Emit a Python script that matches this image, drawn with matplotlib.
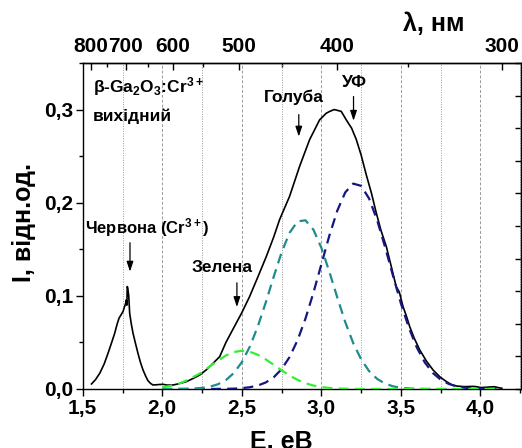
import numpy as np
import matplotlib
matplotlib.use('Agg')
import matplotlib.pyplot as plt
from matplotlib.ticker import FixedLocator, MultipleLocator, FuncFormatter, NullFormatter

plt.rcParams['font.family'] = 'Liberation Sans'
plt.rcParams['font.weight'] = 'bold'
plt.rcParams['mathtext.fontset'] = 'custom'
plt.rcParams['mathtext.rm'] = 'Liberation Sans:bold'
plt.rcParams['mathtext.it'] = 'Liberation Sans:bold'
plt.rcParams['mathtext.bf'] = 'Liberation Sans:bold'
plt.rcParams['mathtext.default'] = 'rm'

# measured PL spectrum, beta-Ga2O3:Cr3+ (as grown)
E_exp = [1.555, 1.58, 1.607, 1.635, 1.659, 1.68, 1.701, 1.715, 1.728, 1.742,
         1.753, 1.762, 1.770, 1.774, 1.777, 1.780, 1.783, 1.789, 1.795, 1.805,
         1.816, 1.83, 1.847, 1.862, 1.879, 1.895, 1.91, 1.926, 1.942, 1.96,
         1.98, 2.005, 2.03, 2.068, 2.10, 2.152, 2.19, 2.235, 2.28, 2.319,
         2.361, 2.40, 2.45, 2.50, 2.549, 2.60, 2.654, 2.70, 2.737, 2.80,
         2.863, 2.926, 2.989, 3.03, 3.052, 3.08, 3.104, 3.125, 3.156, 3.19,
         3.219, 3.25, 3.282, 3.315, 3.345, 3.375, 3.408, 3.44, 3.47, 3.49,
         3.513, 3.535, 3.555, 3.585, 3.618, 3.66, 3.702, 3.745, 3.786, 3.82,
         3.849, 3.9, 3.95, 3.975, 4.0, 4.03, 4.06, 4.09, 4.11, 4.134]
I_exp = [0.0054, 0.010, 0.0169, 0.027, 0.0384, 0.049, 0.0599, 0.069, 0.076, 0.080,
         0.0831, 0.088, 0.092, 0.0957, 0.090, 0.110, 0.108, 0.100, 0.0814, 0.070,
         0.0599, 0.050, 0.0384, 0.029, 0.0204, 0.014, 0.0089, 0.006, 0.0043, 0.0045,
         0.0048, 0.005, 0.0042, 0.0043, 0.0055, 0.0079, 0.011, 0.015, 0.021, 0.0276,
         0.0348, 0.050, 0.066, 0.082, 0.0993, 0.12, 0.1423, 0.163, 0.1817, 0.2068,
         0.239, 0.2677, 0.289, 0.296, 0.298, 0.300, 0.299, 0.298, 0.289, 0.280,
         0.268, 0.251, 0.230, 0.210, 0.189, 0.170, 0.153, 0.131, 0.110, 0.104,
         0.0885, 0.078, 0.067, 0.054, 0.042, 0.030, 0.0204, 0.013, 0.0079, 0.0045,
         0.0032, 0.0025, 0.0028, 0.0025, 0.0015, 0.0018, 0.0022, 0.0024, 0.0015, 0.0008]

# gaussian components of the fit (green, blue, UV bands)
E_fit = [2.00, 2.05, 2.10, 2.15, 2.20, 2.25, 2.30, 2.35, 2.40, 2.45,
         2.50, 2.55, 2.60, 2.65, 2.70, 2.75, 2.80, 2.85, 2.90, 2.95,
         3.00, 3.05, 3.10, 3.15, 3.20, 3.25, 3.30, 3.35, 3.40, 3.45,
         3.50, 3.55, 3.60, 3.65, 3.70, 3.75, 3.80, 3.85, 3.90, 3.95,
         4.00, 4.05, 4.10]
I_green = [0.0018, 0.0033, 0.0055, 0.0089, 0.0133, 0.0180, 0.0245, 0.0305, 0.0360, 0.0397,
           0.0410, 0.0400, 0.0368, 0.0318, 0.0260, 0.0200, 0.0145, 0.0098, 0.0062, 0.0037,
           0.0021, 0.0011, 0.0006, 0.0003, 0.0001, 0.0, 0.0, 0.0, 0.0, 0.0,
           0.0, 0.0, 0.0, 0.0, 0.0, 0.0, 0.0, 0.0, 0.0, 0.0,
           0.0, 0.0, 0.0]
I_blue = [0.0, 0.0, 0.0001, 0.0002, 0.0005, 0.0012, 0.0025, 0.0051, 0.0096, 0.0172,
          0.0288, 0.0454, 0.0670, 0.0927, 0.1204, 0.1467, 0.1677, 0.1799, 0.1811, 0.1710,
          0.1515, 0.1259, 0.0982, 0.0718, 0.0493, 0.0318, 0.0192, 0.0109, 0.0058, 0.0029,
          0.0013, 0.0006, 0.0002, 0.0001, 0.0, 0.0, 0.0, 0.0, 0.0, 0.0,
          0.0, 0.0, 0.0]
I_uv = [0.0, 0.0, 0.0, 0.0, 0.0, 0.0, 0.0, 0.0001, 0.0002, 0.0004,
        0.0009, 0.0019, 0.0037, 0.0070, 0.0125, 0.0213, 0.0343, 0.0523, 0.0756, 0.1034,
        0.1340, 0.1646, 0.1915, 0.2111, 0.2205, 0.2181, 0.2044, 0.1815, 0.1526, 0.1216,
        0.0918, 0.0656, 0.0445, 0.0285, 0.0173, 0.0100, 0.0055, 0.0028, 0.0014, 0.0006,
        0.0003, 0.0001, 0.0]

nm_major = [800, 700, 600, 500, 400, 300]
nm_minor = [750, 650, 550, 450, 350]


def e2nm(x):
    x = np.asarray(x, dtype=float)
    with np.errstate(divide='ignore', invalid='ignore'):
        return 1239.84 / x


comma = FuncFormatter(lambda v, p: f'{v:.1f}'.replace('.', ','))

fig = plt.figure(figsize=(5.22, 4.48), dpi=100)
ax = fig.add_axes([0.1585, 0.1317, 0.8397, 0.7277])

ax.plot(E_exp, I_exp, color='black', lw=1.2, zorder=3)
ax.plot(E_fit, I_uv, color='#161683', lw=1.6, dashes=(4.5, 2.8), zorder=4)
ax.plot(E_fit, I_blue, color='#1f8c8c', lw=1.6, dashes=(4.5, 2.8), zorder=4)
ax.plot(E_fit, I_green, color='#33ee33', lw=1.6, dashes=(4.5, 2.8), zorder=5)

ax.set_xlim(1.5, 4.255)
ax.set_ylim(0, 0.35)
ax.xaxis.set_major_locator(MultipleLocator(0.5))
ax.xaxis.set_minor_locator(MultipleLocator(0.25))
ax.yaxis.set_major_locator(MultipleLocator(0.1))
ax.yaxis.set_minor_locator(MultipleLocator(0.05))
ax.xaxis.set_major_formatter(comma)
ax.yaxis.set_major_formatter(comma)
ax.grid(which='major', axis='x', color='#999999', lw=0.7, ls=(0, (3, 2)))
ax.grid(which='minor', axis='x', color='#999999', lw=0.7, ls=(0, (1, 1.5)))
ax.set_axisbelow(True)

ax.tick_params(which='both', direction='out', width=1.0, labelsize=15, top=False, right=False)
ax.tick_params(which='major', length=5, pad=2)
ax.tick_params(which='minor', length=3)
for s in ax.spines.values():
    s.set_linewidth(1.0)

# wavelength scale on top
top = ax.secondary_xaxis('top', functions=(e2nm, e2nm))
top.xaxis.set_major_locator(FixedLocator(nm_major))
top.xaxis.set_minor_locator(FixedLocator(nm_minor))
top.tick_params(which='both', direction='in', width=1.0, labelsize=15, pad=5)
top.tick_params(which='major', length=5)
top.tick_params(which='minor', length=3)
top.spines['top'].set_linewidth(1.0)

right = ax.secondary_yaxis('right', functions=(lambda y: y / 0.35, lambda v: v * 0.35))
right.yaxis.set_major_locator(MultipleLocator(0.1))
right.yaxis.set_major_formatter(NullFormatter())
right.tick_params(direction='in', length=4, width=1.0)

ax.set_xlabel('E, eВ', fontsize=18, fontweight='bold')
ax.xaxis.set_label_coords(0.452, -0.125)
ax.set_ylabel('I, відн.од.', fontsize=18, fontweight='bold')
ax.yaxis.set_label_coords(-0.106, 0.512)
ax.text(0.80, 1.12, 'λ, нм', transform=ax.transAxes, fontsize=18,
        ha='center', va='center')

ax.text(1.565, 0.325, r'$\beta$-Ga$_2$O$_3$:Cr$^{3+}$', fontsize=12.5, va='center')
ax.text(1.565, 0.2925, 'вихідний', fontsize=12.5, va='center')
ax.text(1.905, 0.173, 'Червона (Cr$^{3+}$)', fontsize=12, ha='center', va='center')
ax.text(2.374, 0.130, 'Зелена', fontsize=12.5, ha='center', va='center')
ax.text(2.826, 0.313, 'Голуба', fontsize=12.5, ha='center', va='center')
ax.text(3.205, 0.329, 'УФ', fontsize=12.5, ha='center', va='center')

arrows = [(1.797, 0.157, 0.126), (2.469, 0.114, 0.088),
          (2.858, 0.2946, 0.271), (3.202, 0.314, 0.288)]
for xe, y0, y1 in arrows:
    ax.annotate('', xy=(xe, y1), xytext=(xe, y0),
                arrowprops=dict(arrowstyle='-|>,head_length=0.6,head_width=0.2',
                                color='black', lw=0.9, shrinkA=0, shrinkB=0,
                                mutation_scale=10))

fig.savefig('out.png', dpi=100)
